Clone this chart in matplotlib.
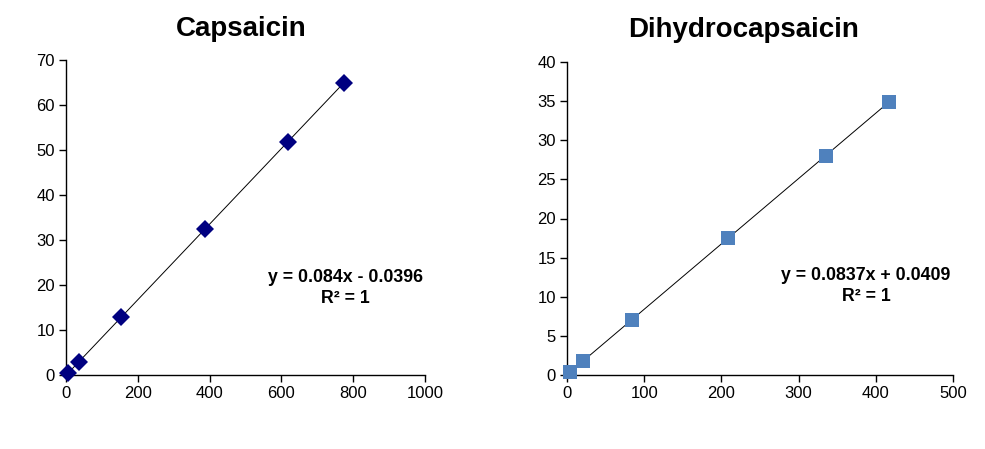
import numpy as np
import matplotlib
matplotlib.use('Agg')
import matplotlib.pyplot as plt

plt.rcParams['font.family'] = ['Liberation Sans', 'DejaVu Sans']

# Capsaicin calibration points
cap_x = [5, 37, 153, 387, 617, 773]
cap_y = [0.38, 3.0, 12.8, 32.4, 51.7, 64.9]

# Dihydrocapsaicin calibration points
dih_x = [4.5, 21, 84, 208, 335, 417]
dih_y = [0.43, 1.8, 7.05, 17.45, 28.0, 34.9]

W, H = 985, 449


def box(l, t, r, b):
    return [l / W, (H - b) / H, (r - l) / W, (b - t) / H]


def draw_panel(ax, x, y, marker, color, msize, xmax, xstep, ymax, ystep, eq_text, eq_xy):
    x = np.array(x)
    y = np.array(y)
    slope, icpt = np.polyfit(x, y, 1)
    xx = np.array([x.min(), x.max()])
    ax.plot(xx, slope * xx + icpt, color='black', lw=0.7, zorder=2)
    ax.plot(x, y, linestyle='none', marker=marker, color=color,
            markersize=msize, markeredgewidth=0, zorder=3, clip_on=False)
    ax.set_xlim(0, xmax)
    ax.set_ylim(0, ymax)
    ax.set_xticks(np.arange(0, xmax + 1, xstep))
    ax.set_yticks(np.arange(0, ymax + 1, ystep))
    for s in ['top', 'right']:
        ax.spines[s].set_visible(False)
    for s in ['left', 'bottom']:
        ax.spines[s].set_linewidth(1.0)
    ax.tick_params(direction='out', length=5, width=1, labelsize=12, pad=3)
    ax.text(eq_xy[0], eq_xy[1], eq_text, transform=ax.transAxes, ha='center',
            va='center', fontsize=12.8, fontweight='bold', linespacing=1.35)


fig = plt.figure(figsize=(W / 100, H / 100), dpi=100)

ax1 = fig.add_axes(box(66, 60, 425, 375))
draw_panel(ax1, cap_x, cap_y, 'D', '#000080', 9, 1000, 200, 70, 10,
           'y = 0.084x - 0.0396\nR² = 1', ((345 - 66) / 359, (375 - 288) / 315))

ax2 = fig.add_axes(box(567, 62, 953, 375))
draw_panel(ax2, dih_x, dih_y, 's', '#4F81BD', 10, 500, 100, 40, 5,
           'y = 0.0837x + 0.0409\nR² = 1', ((866 - 567) / 386, (375 - 286) / 313))

fig.text(241 / W, 1 - 29 / H, 'Capsaicin', ha='center', va='center',
         fontsize=20, fontweight='bold')
fig.text(744 / W, 1 - 30 / H, 'Dihydrocapsaicin', ha='center', va='center',
         fontsize=20, fontweight='bold')

fig.savefig('out.png', dpi=100)
